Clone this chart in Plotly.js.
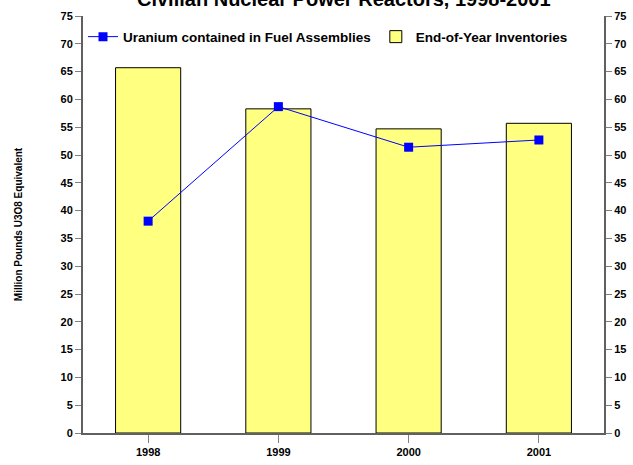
<!DOCTYPE html>
<html>
<head>
<meta charset="utf-8">
<script src="https://cdn.plot.ly/plotly-3.0.1.min.js"></script>
<style>html,body{margin:0;padding:0;background:#fff;}#chart{width:633px;height:465px;}</style>
</head>
<body>
<div id="chart"></div>
<script>
const years = ['1998', '1999', '2000', '2001'];
const inventories = [65.7, 58.3, 54.7, 55.7];
const fuelAssemblies = [38.1, 58.7, 51.4, 52.7];
const yTicks = [0,5,10,15,20,25,30,35,40,45,50,55,60,65,70,75];
const chartTitle = 'Civilian Nuclear Power Reactors, 1998-2001';

const fontFam = '"Liberation Sans", Arial, sans-serif';

const data = [
  {
    type: 'scatter', mode: 'lines+markers', name: 'Uranium contained in Fuel Assemblies',
    x: years, y: fuelAssemblies, yaxis: 'y2',
    line: {color: '#0000FF', width: 1},
    marker: {color: '#0000FF', symbol: 'square', size: 9}
  },
  {
    type: 'bar', name: 'End-of-Year Inventories',
    x: years, y: inventories,
    marker: {color: '#FFFF80', line: {color: '#000000', width: 1}}
  }
];

const axFont = {family: fontFam, size: 11, color: '#000', weight: 'bold'};

const layout = {
  width: 633, height: 465,
  margin: {l: 83, r: 29, t: 16, b: 32},
  paper_bgcolor: '#fff', plot_bgcolor: '#fff',
  bargap: 0.5,
  showlegend: true,
  annotations: [{
    text: '<b>' + chartTitle + '</b>', xref: 'paper', yref: 'paper',
    x: 0.5, xanchor: 'center', y: 1.01, yanchor: 'bottom', showarrow: false,
    font: {family: fontFam, size: 20, color: '#000'}
  }],
  legend: {
    orientation: 'h', x: 0.0, xanchor: 'left', y: 0.95, yanchor: 'middle',
    bgcolor: 'rgba(0,0,0,0)', font: {family: fontFam, size: 13.5, color: '#000', weight: 'bold'},
    itemwidth: 30
  },
  xaxis: {
    type: 'category', showline: true, linecolor: '#606060', linewidth: 2,
    ticks: 'outside', ticklen: 8, tickcolor: '#808080', tickfont: axFont,
    showgrid: false, zeroline: false
  },
  yaxis: {
    range: [0, 75], tickvals: yTicks, ticktext: yTicks.map(String),
    showline: true, linecolor: '#606060', linewidth: 2,
    ticks: 'outside', ticklen: 6, tickcolor: '#808080', tickfont: axFont,
    showgrid: false, zeroline: false,
    title: {text: '<b>Million Pounds U3O8 Equivalent</b>', font: {family: fontFam, size: 10, color: '#000'}, standoff: 36}
  },
  yaxis2: {
    range: [0, 75], tickvals: yTicks, ticktext: yTicks.map(String),
    overlaying: 'y', side: 'right',
    showline: true, linecolor: '#606060', linewidth: 2,
    ticks: 'outside', ticklen: 6, tickcolor: '#808080', tickfont: axFont,
    showgrid: false, zeroline: false
  }
};

Plotly.newPlot('chart', data, layout, {displayModeBar: false, staticPlot: true});
</script>
</body>
</html>
